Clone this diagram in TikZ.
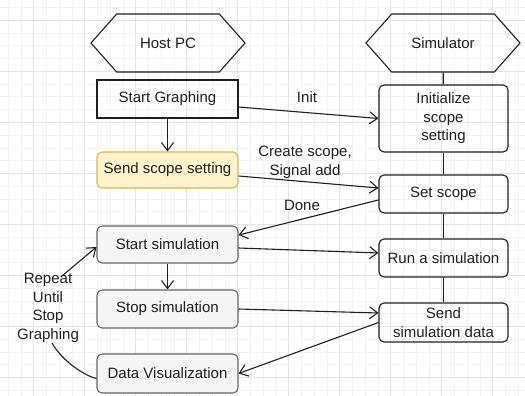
\documentclass[tikz,border=0pt]{standalone}
\usepackage{fontspec}
\setmainfont{Liberation Sans}
\usetikzlibrary{arrows.meta,shapes.symbols,positioning}
\definecolor{notefill}{HTML}{FFF2CC}
\definecolor{notedraw}{HTML}{D6B656}
\definecolor{stepfill}{HTML}{F5F5F5}
\definecolor{stepdraw}{HTML}{666666}
\definecolor{inkline}{HTML}{1F1F1F}

\begin{document}
\begin{tikzpicture}[x=1pt,y=-1pt,>={Straight Barb[length=8pt,width=12pt]},
  line width=1.1pt,draw=inkline,text=inkline,
  every node/.style={font=\fontsize{15}{18.5}\selectfont,align=center},
  hexa/.style={draw,signal,signal to=west and east,signal pointer angle=97,minimum width=154pt,minimum height=58pt,inner sep=0pt},
  flowbox/.style={draw,minimum width=141pt,minimum height=38pt,inner sep=1pt},
  simbox/.style={flowbox,rounded corners=5pt,minimum width=129pt},
  notebox/.style={flowbox,rounded corners=5pt,fill=notefill,draw=notedraw},
  runbox/.style={flowbox,rounded corners=5pt,fill=stepfill,draw=stepdraw},
  minorline/.style={line width=0.5pt,draw=black!5},
  majorline/.style={line width=0.6pt,draw=black!11}]
\useasboundingbox (0,0) rectangle (525,396);
% grid
\foreach \i in {0,...,40} {
  \draw[minorline] (8+12.75*\i,0) -- (8+12.75*\i,396);
}
\foreach \j in {0,...,30} {
  \draw[minorline] (0,7.5+12.75*\j) -- (525,7.5+12.75*\j);
}
\foreach \i in {0,...,9} {
  \draw[majorline] (33.5+51*\i,0) -- (33.5+51*\i,396);
}
\foreach \j in {0,...,7} {
  \draw[majorline] (0,20.25+51*\j) -- (525,20.25+51*\j);
}

% host side
\node[hexa] (host) at (168,43) {Host PC};
\node[flowbox] (graph) at (167.5,99) {Start Graphing};
\node[notebox,minimum height=36pt] (send) at (167.5,170) {Send scope setting};
\node[runbox,minimum height=37pt] (start) at (167.5,244.5) {Start simulation};
\node[runbox] (stop) at (167.5,309) {Stop simulation};
\node[runbox,minimum height=39pt] (vis) at (167.5,373.5) {Data Visualization};
\node[inner sep=1pt] (repeat) at (48,308) {Repeat\\Until\\Stop\\Graphing};

% simulator side
\node[hexa] (sim) at (443,43) {Simulator};
\node[simbox,minimum height=67pt] (init) at (443.5,118.5) {Initialize\\scope\\setting};
\node[simbox] (scope) at (443.5,194) {Set scope};
\node[simbox] (run) at (443.5,258) {Run a simulation};
\node[simbox,minimum height=39pt] (data) at (443.5,322.5) {Send\\simulation data};

\draw (sim) -- (init);
\draw (init) -- (scope);
\draw (scope) -- (run);
\draw (run) -- (data);

\draw[->] (graph) -- (send);
\draw[->] (start) -- (stop);

% shifts are in page direction: negative is downwards
\draw[->] ([yshift=-8pt]graph.east) -- (init.west);
\node (initlbl) at (307,97) {Init};
\draw[->] ([yshift=-6pt]send.east) -- ([yshift=6pt]scope.west);
\node (createlbl) at (305,162.5) {Create scope,\\Signal add};
\draw[->] ([yshift=-6pt]scope.west) -- ([yshift=9.5pt]start.east);
\node (donelbl) at (302,205) {Done};
\draw[->] ([yshift=-3.5pt]start.east) -- ([yshift=5pt]run.west);
\draw[->] (stop.east) -- ([yshift=9.5pt]data.west);
\draw[->] (data.west) -- (vis.east);

\draw ([yshift=-5pt]vis.west) .. controls (85,376) and (62,361) .. ([xshift=4pt,yshift=1pt]repeat.south);
\draw[->] ([xshift=14pt,yshift=-4pt]repeat.north) -- ([yshift=-2.5pt]start.west);
\end{tikzpicture}
\end{document}
